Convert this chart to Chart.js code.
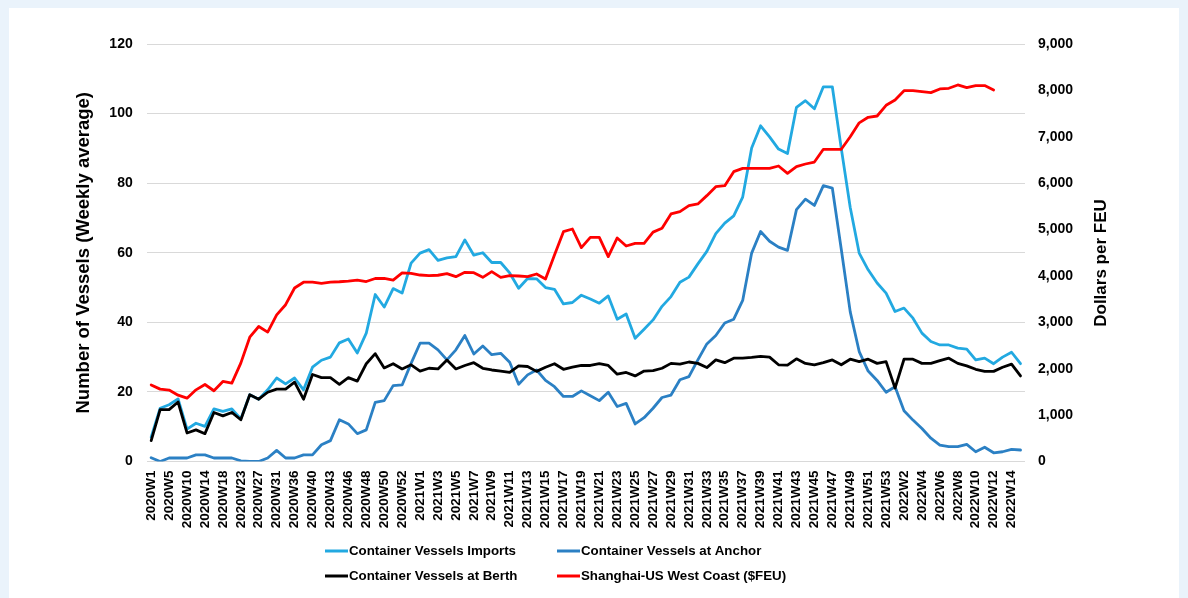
<!DOCTYPE html>
<html>
<head>
<meta charset="utf-8">
<title>Port congestion and freight rates</title>
<script src="https://cdn.jsdelivr.net/npm/chart.js@4.4.1/dist/chart.umd.min.js"></script>
<style>
  html, body { margin: 0; padding: 0; background: #EAF3FB; }
  #wrap { position: relative; width: 1188px; height: 598px; }
  canvas { display: block; }
</style>
</head>
<body>
<div id="wrap"><canvas id="chart" width="1188" height="598"></canvas></div>
<script>
// Semanas (cada categoria del eje X)
const weeks = [
  '2020W1', '2020W3', '2020W5', '2020W7', '2020W10', '2020W12', '2020W14', '2020W16',
  '2020W18', '2020W20', '2020W23', '2020W25', '2020W27', '2020W29', '2020W31', '2020W33',
  '2020W36', '2020W38', '2020W40', '2020W41', '2020W43', '2020W44', '2020W46', '2020W47',
  '2020W48', '2020W49', '2020W50', '2020W51', '2020W52', '2020W53',
  '2021W1', '2021W2', '2021W3', '2021W4', '2021W5', '2021W6', '2021W7', '2021W8', '2021W9',
  '2021W10', '2021W11', '2021W12', '2021W13', '2021W14', '2021W15', '2021W16', '2021W17',
  '2021W18', '2021W19', '2021W20', '2021W21', '2021W22', '2021W23', '2021W24', '2021W25',
  '2021W26', '2021W27', '2021W28', '2021W29', '2021W30', '2021W31', '2021W32', '2021W33',
  '2021W34', '2021W35', '2021W36', '2021W37', '2021W38', '2021W39', '2021W40', '2021W41',
  '2021W42', '2021W43', '2021W44', '2021W45', '2021W46', '2021W47', '2021W48', '2021W49',
  '2021W50', '2021W51', '2021W52', '2021W53',
  '2022W1', '2022W2', '2022W3', '2022W4', '2022W5', '2022W6', '2022W7', '2022W8',
  '2022W9', '2022W10', '2022W11', '2022W12', '2022W13', '2022W14', '2022W15'
];

// Buques portacontenedores (promedio semanal)
const vesselsImports = [
  7.0, 15.3, 16.3, 18.0, 9.3, 11.0, 10.1, 15.1, 14.4, 15.1,
  12.2, 19.2, 17.9, 20.6, 24.0, 22.3, 24.0, 20.6, 27.1, 29.1,
  30.0, 34.1, 35.2, 31.2, 36.9, 48.0, 44.4, 49.7, 48.4, 57.0,
  59.9, 60.9, 57.8, 58.5, 58.9, 63.7, 59.3, 60.0, 57.2, 57.2,
  54.2, 49.8, 52.6, 52.5, 50.0, 49.5, 45.3, 45.7, 47.8, 46.7,
  45.5, 47.6, 40.9, 42.4, 35.4, 38.0, 40.7, 44.6, 47.4, 51.5,
  53.0, 56.8, 60.4, 65.5, 68.5, 70.6, 76.0, 90.1, 96.5, 93.3,
  89.8, 88.5, 101.8, 103.7, 101.4, 107.7, 107.7, 90.0, 73.0, 59.9,
  55.1, 51.3, 48.4, 43.1, 44.1, 41.2, 36.9, 34.5, 33.5, 33.5,
  32.6, 32.3, 29.2, 29.7, 28.1, 30.0, 31.4, 28.1
];

const vesselsAnchor = [
  1.1, 0.0, 1.0, 1.0, 1.0, 1.9, 1.9, 1.0, 1.0, 1.0,
  0.2, 0.0, 0.0, 1.0, 3.2, 1.0, 1.0, 1.9, 1.9, 4.8,
  6.0, 12.0, 10.8, 8.0, 9.1, 17.0, 17.5, 21.8, 22.0, 28.2,
  34.0, 34.0, 32.1, 29.2, 32.1, 36.2, 30.9, 33.2, 30.7, 31.1,
  28.5, 22.2, 24.9, 26.3, 23.3, 21.5, 18.7, 18.7, 20.3, 18.9,
  17.5, 19.9, 15.8, 16.7, 10.8, 12.6, 15.3, 18.4, 19.1, 23.5,
  24.4, 29.2, 33.8, 36.2, 39.8, 40.9, 46.3, 59.9, 66.1, 63.3,
  61.6, 60.7, 72.4, 75.4, 73.6, 79.3, 78.6, 61.0, 43.0, 31.6,
  26.0, 23.3, 19.9, 21.5, 14.6, 11.9, 9.5, 6.7, 4.7, 4.3,
  4.3, 4.9, 2.8, 4.1, 2.5, 2.8, 3.5, 3.3
];

const vesselsBerth = [
  6.0, 14.9, 14.9, 17.1, 8.2, 9.1, 8.0, 14.1, 13.1, 14.1,
  12.0, 19.2, 17.9, 19.9, 20.8, 20.8, 22.8, 17.9, 25.0, 24.1,
  24.1, 22.2, 24.1, 23.1, 28.1, 31.0, 26.9, 28.1, 26.6, 27.8,
  26.0, 26.8, 26.6, 29.2, 26.6, 27.6, 28.4, 26.8, 26.3, 26.0,
  25.6, 27.5, 27.3, 25.9, 27.1, 28.1, 26.5, 27.1, 27.6, 27.6,
  28.1, 27.6, 25.1, 25.6, 24.6, 26.0, 26.1, 26.8, 28.2, 28.0,
  28.6, 28.2, 27.0, 29.2, 28.4, 29.7, 29.7, 29.9, 30.2, 30.0,
  27.8, 27.7, 29.5, 28.2, 27.8, 28.4, 29.2, 27.8, 29.4, 28.7,
  29.4, 28.2, 28.7, 21.1, 29.4, 29.4, 28.2, 28.2, 29.0, 29.7,
  28.2, 27.5, 26.5, 25.9, 25.9, 27.1, 28.0, 24.6
];

// Flete Shanghai - Costa Oeste EE.UU. (USD por FEU)
const freightRate = [
  1650, 1560, 1540, 1430, 1365, 1545, 1660, 1525, 1725, 1690,
  2120, 2680, 2910, 2790, 3160, 3380, 3740, 3865, 3865, 3840,
  3865, 3875, 3890, 3910, 3880, 3945, 3945, 3910, 4065, 4055,
  4020, 4005, 4015, 4050, 3985, 4078, 4071, 3970, 4092, 3970,
  4006, 3999, 3985, 4042, 3934, 4452, 4955, 5012, 4610, 4833,
  4833, 4416, 4819, 4646, 4703, 4703, 4945, 5027, 5336, 5386,
  5515, 5551, 5731, 5925, 5946, 6248, 6320, 6320, 6320, 6320,
  6370, 6212, 6356, 6413, 6456, 6730, 6730, 6730, 7000, 7300,
  7420, 7448, 7678, 7793, 7994, 7994, 7973, 7952, 8031, 8045,
  8117, 8059, 8103, 8103, 8009, null, null, null
];

// Ejes
const vesselTicks = { min: 0, max: 120, step: 20 };
const dollarTicks = { min: 0, max: 9000, step: 1000 };

const FONT = "'Liberation Sans', Arial, sans-serif";
const TEXT = '#000000';

// Fondo de la pagina y panel blanco
const panelBackground = {
  id: 'panelBackground',
  beforeDraw(chart) {
    const ctx = chart.ctx;
    ctx.save();
    ctx.fillStyle = '#EAF3FB';
    ctx.fillRect(0, 0, chart.width, chart.height);
    ctx.fillStyle = '#FFFFFF';
    ctx.fillRect(9, 8, 1170, chart.height - 8);
    ctx.restore();
  }
};

// Titulo del eje derecho, leido de abajo hacia arriba
const rightAxisTitle = {
  id: 'rightAxisTitle',
  afterDraw(chart) {
    const ctx = chart.ctx;
    ctx.save();
    ctx.translate(1101, 263);
    ctx.rotate(-Math.PI / 2);
    ctx.font = 'bold 17px ' + FONT;
    ctx.fillStyle = TEXT;
    ctx.textAlign = 'center';
    ctx.textBaseline = 'middle';
    ctx.fillText('Dollars per FEU', 0, 0);
    ctx.restore();
  }
};

// Leyenda en dos columnas
const twoColumnLegend = {
  id: 'twoColumnLegend',
  afterDraw(chart) {
    const ctx = chart.ctx;
    const cols = [325, 557];
    const rows = [551, 576];
    ctx.save();
    ctx.font = 'bold 13.3px ' + FONT;
    ctx.textBaseline = 'middle';
    ctx.textAlign = 'left';
    chart.data.datasets.forEach((ds, i) => {
      const x = cols[i % 2];
      const y = rows[Math.floor(i / 2)];
      ctx.strokeStyle = ds.borderColor;
      ctx.lineWidth = 3;
      ctx.beginPath();
      ctx.moveTo(x, y);
      ctx.lineTo(x + 23, y);
      ctx.stroke();
      ctx.fillStyle = TEXT;
      ctx.fillText(ds.label, x + 24, y);
    });
    ctx.restore();
  }
};

const lineStyle = {
  borderWidth: 2.8,
  pointRadius: 0,
  pointHoverRadius: 0,
  tension: 0,
  borderJoinStyle: 'round',
  borderCapStyle: 'round',
  fill: false
};

new Chart(document.getElementById('chart'), {
  type: 'line',
  data: {
    labels: weeks,
    datasets: [
      { label: 'Container Vessels Imports', data: vesselsImports, borderColor: '#22A9E1', yAxisID: 'y', order: 4, ...lineStyle },
      { label: 'Container Vessels at Anchor', data: vesselsAnchor, borderColor: '#2B80C4', yAxisID: 'y', order: 3, ...lineStyle },
      { label: 'Container Vessels at Berth', data: vesselsBerth, borderColor: '#000000', yAxisID: 'y', order: 2, ...lineStyle },
      { label: 'Shanghai-US West Coast ($FEU)', data: freightRate, borderColor: '#FF0000', yAxisID: 'y1', order: 1, ...lineStyle }
    ]
  },
  options: {
    responsive: false,
    animation: false,
    devicePixelRatio: 1,
    layout: { padding: { top: 44, left: 0, right: 0, bottom: 0 } },
    plugins: {
      legend: { display: false },
      tooltip: { enabled: false }
    },
    scales: {
      x: {
        type: 'category',
        offset: true,
        grid: { display: false, drawTicks: false },
        border: { display: false },
        ticks: {
          autoSkip: false,
          minRotation: 90,
          maxRotation: 90,
          padding: 9,
          color: TEXT,
          font: { family: FONT, size: 13.5, weight: 'bold' },
          callback: (value, index) => (index % 2 === 0 ? weeks[index] : '')
        },
        afterFit(scale) { scale.height = 136.5; }
      },
      y: {
        position: 'left',
        min: vesselTicks.min,
        max: vesselTicks.max,
        grid: { color: '#D9D9D9', lineWidth: 1, drawTicks: false },
        border: { display: false },
        ticks: {
          stepSize: vesselTicks.step,
          padding: 14,
          color: TEXT,
          font: { family: FONT, size: 14, weight: 'bold' }
        },
        title: {
          display: true,
          text: 'Number of Vessels (Weekly average)',
          color: TEXT,
          font: { family: FONT, size: 18.5, weight: 'bold' },
          padding: { top: 73, bottom: 0 }
        },
        afterFit(scale) { scale.width = 146.7; }
      },
      y1: {
        position: 'right',
        min: dollarTicks.min,
        max: dollarTicks.max,
        grid: { display: false, drawTicks: false },
        border: { display: false },
        ticks: {
          stepSize: dollarTicks.step,
          padding: 13,
          color: TEXT,
          font: { family: FONT, size: 14, weight: 'bold' }
        },
        afterFit(scale) { scale.width = 163; }
      }
    }
  },
  plugins: [panelBackground, rightAxisTitle, twoColumnLegend]
});
</script>
</body>
</html>
